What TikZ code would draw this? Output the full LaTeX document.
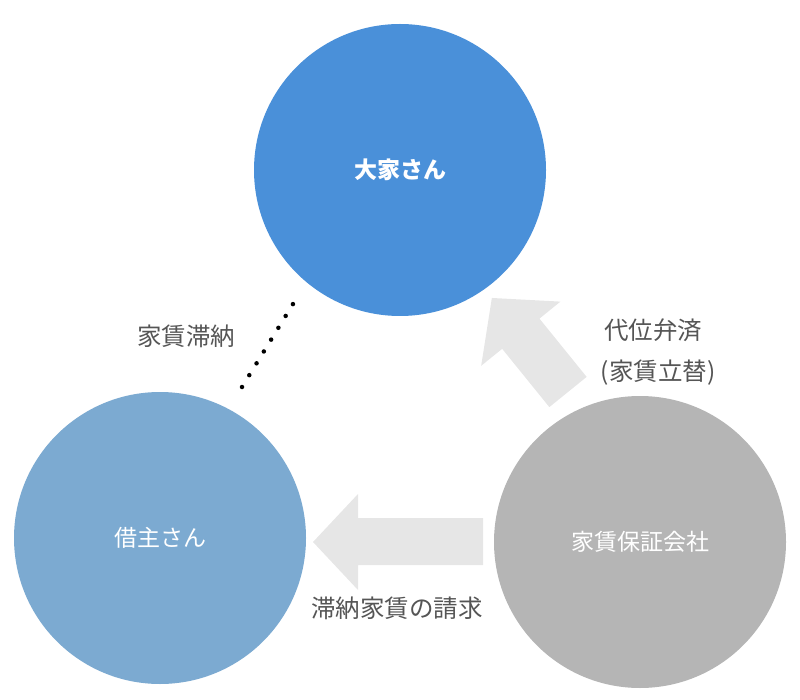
\documentclass[tikz,border=0pt]{standalone}
\usepackage{fontspec}
\setmainfont{Noto Sans CJK JP}
\usepackage{tikz}

\definecolor{ownerblue}{RGB}{74,144,217}
\definecolor{tenantblue}{RGB}{124,170,209}
\definecolor{guargray}{RGB}{181,181,181}
\definecolor{arrowgray}{RGB}{230,230,230}
\definecolor{labelgray}{RGB}{85,85,85}

\begin{document}
\begin{tikzpicture}[x=1pt, y=-1pt, every node/.style={circle, minimum size=292pt, inner sep=0pt, text=white, font=\fontsize{23}{27}\selectfont}]
	\tikzset{label text/.style={rectangle, minimum size=0pt, text=labelgray, font=\fontsize{24.5}{28}\selectfont}}
	\useasboundingbox (0,0) rectangle (800,700);
	% block arrows
	\fill[arrowgray] (313,542) -- (358,494) -- (358,518) -- (483,518) -- (483,565) -- (358,565) -- (358,590) -- cycle;
	\begin{scope}[shift={(568,392)}, rotate=129]
		\fill[arrowgray] (121,0) -- (75,-51) -- (75,-24) -- (0,-24) -- (0,24) -- (75,24) -- (75,51) -- cycle;
	\end{scope}
	% circles
	\node[fill=ownerblue, font=\fontsize{23}{27}\selectfont\bfseries] (owner)  at (400,170) {大家さん};
	\node[fill=tenantblue] (tenant) at (160,538) {借主さん};
	\node[fill=guargray]   (guar)   at (640,542) {家賃保証会社};
	% dotted link
	\coordinate (d1) at (242,387);
	\coordinate (d2) at (293,304);
	\draw[line width=4.5pt, line cap=round, dash pattern=on 0pt off 13.9pt] (d1) -- (d2);
	% texts
	\node[label text] (late)  at (186,336) {家賃滞納};
	\node[label text] (pay1)  at (653,330) {代位弁済};
	\node[label text] (pay2)  at (658,373) {(家賃立替)};
	\node[label text] (claim) at (397,608) {滞納家賃の請求};
\end{tikzpicture}
\end{document}
